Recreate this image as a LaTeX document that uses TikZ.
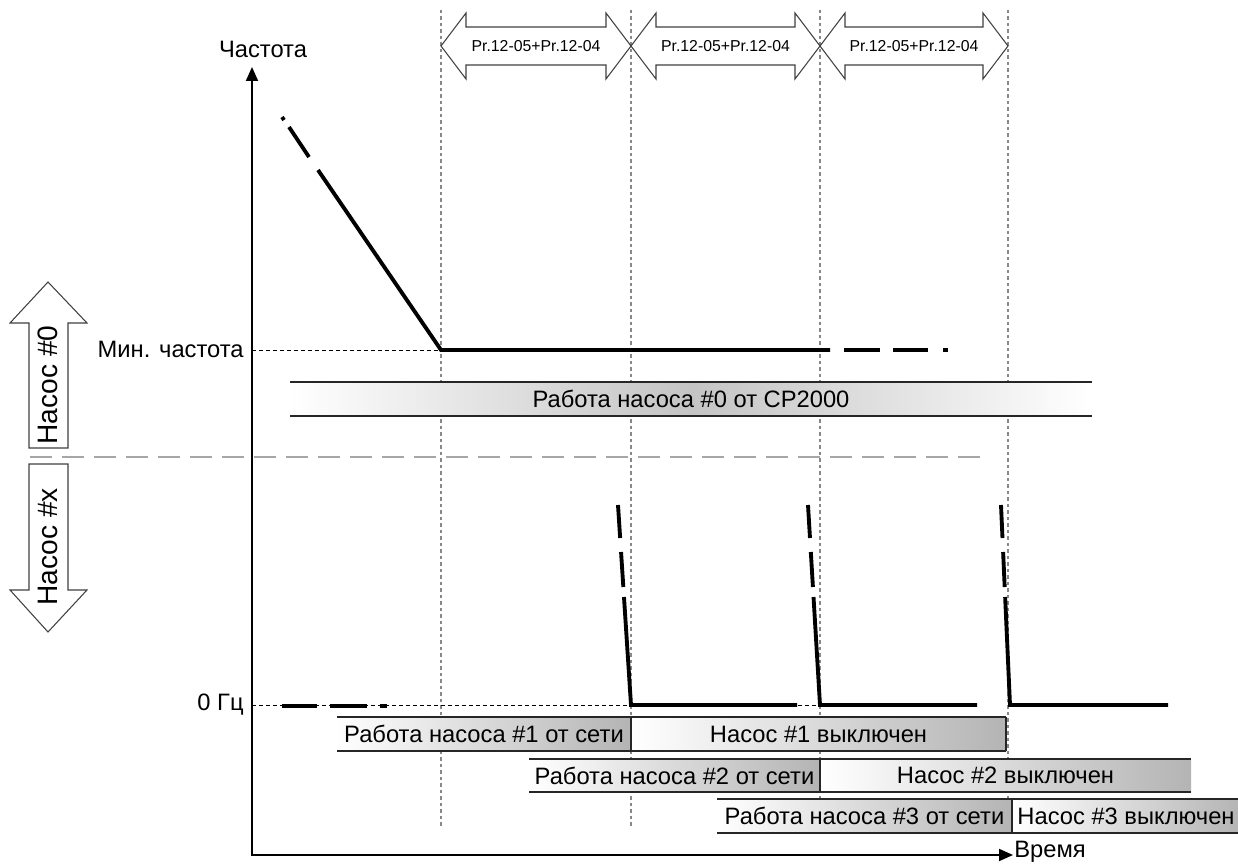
\documentclass[tikz,border=0pt]{standalone}
\usepackage{fontspec}
\setmainfont{Liberation Sans}
\usetikzlibrary{arrows.meta}

\definecolor{gridgray}{HTML}{888888}
\definecolor{sepgray}{HTML}{A6A6A6}
\definecolor{barshade}{HTML}{B4B4B4}
\definecolor{midshade}{HTML}{C4C4C4}

\begin{document}
\begin{tikzpicture}[
    x=0.02cm, y=-0.02cm,
    curve/.style={line width=2.2pt},
    guide/.style={gridgray, line width=0.9pt, dash pattern=on 0.07cm off 0.06cm},
    refline/.style={black, line width=0.5pt, dash pattern=on 0.08cm off 0.06cm},
    bigarrow/.style={draw=black!75, line width=0.6pt, fill=white},
    barline/.style={draw=black!85, line width=0.6pt},
    lbl/.style={font=\fontsize{13.5}{16}\selectfont, inner sep=0pt},
    parlabel/.style={font=\fontsize{9}{11}\selectfont, inner sep=0pt},
    pumplabel/.style={font=\fontsize{16}{19}\selectfont, inner sep=0pt, rotate=90},
]
\useasboundingbox (0,0) rectangle (1238,865);

% Time marks
\foreach \x in {441, 631, 820, 1008} {
    \draw[guide] (\x,10) -- (\x,828);
}

% Pr.12-05+Pr.12-04 intervals
\foreach \a/\b [count=\i] in {441/631, 631/820, 820/1008} {
    \draw[bigarrow] (\a,46) -- (\a+25,13) -- (\a+25,27) -- (\b-25,27)
        -- (\b-25,13) -- (\b,46) -- (\b-25,79) -- (\b-25,65)
        -- (\a+25,65) -- (\a+25,79) -- cycle;
    \node[parlabel] (par\i) at ({(\a+\b)/2},46) {Pr.12-05+Pr.12-04};
}

% Pump arrows on the left
\draw[bigarrow] (48,282) -- (87,323) -- (68,323) -- (68,448)
    -- (29,448) -- (29,323) -- (10,323) -- cycle;
\node[pumplabel] (pump0) at (48,385) {Насос \#0};
\draw[bigarrow] (48,632) -- (87,590) -- (68,590) -- (68,464)
    -- (29,464) -- (29,590) -- (10,590) -- cycle;
\node[pumplabel] (pumpx) at (48,547) {Насос \#x};

% Separator
\draw[sepgray, line width=1.4pt, dash pattern=on 0.44cm off 0.2cm] (30,457) -- (985,457);

% Reference levels
\draw[refline] (252,350) -- (441,350);
\draw[refline] (252,705) -- (820,705);
\node[lbl, anchor=east] (fmin) at (244,349) {Мин. частота};
\node[lbl, anchor=east] (fzero) at (244,705) {0 Гц};

% Pump #0 bar
\shade[left color=white, right color=white, middle color=midshade] (290,382) rectangle (1092,416);
\draw[barline] (290,382) -- (1092,382) (290,416) -- (1092,416);
\node[lbl] (run0) at (691,399) {Работа насоса \#0 от CP2000};

% Pump #1..#3 bars
\foreach \i/\a/\b/\c/\ya/\yb in {1/337/631/1006/717/751, 2/529/820/1191/759/792, 3/717/1012/1240/799/833} {
    \shade[left color=white, right color=barshade] (\a,\ya) rectangle (\b,\yb);
    \shade[left color=white, right color=barshade] (\b,\ya) rectangle (\c,\yb);
    \draw[barline] (\a,\ya) -- (\c,\ya) (\a,\yb) -- (\c,\yb);
    \draw[black!85, line width=1pt] (\b,\ya) -- (\b,\yb);
    \node[lbl] (run\i) at ({(\a+\b)/2},{(\ya+\yb)/2}) {Работа насоса \#\i{} от сети};
    \node[lbl] (off\i) at ({(\b+\c)/2},{(\ya+\yb)/2}) {Насос \#\i{} выключен};
}
\draw[barline] (1006,717) -- (1006,751);

% Frequency of pump #0
\draw[curve] (282,117) -- (284,120);
\draw[curve] (289,127) -- (309,157);
\draw[curve] (318,170) -- (441,350) -- (830,350);
\foreach \a/\b in {844/880, 893/928, 943/948} {
    \draw[curve] (\a,350) -- (\b,350);
}

% Frequency of pump #x
\foreach \a/\b in {282/317, 330/367, 380/387} {
    \draw[curve] (\a,706) -- (\b,706);
}
\foreach \t/\b/\e in {618/631/797, 808/820/977, 1001/1010/1168} {
    \draw[curve] (\t,505) -- ({\t+(\b-\t)*0.165},538);
    \draw[curve] ({\t+(\b-\t)*0.235},552) -- ({\t+(\b-\t)*0.41},587);
    \draw[curve] ({\t+(\b-\t)*0.46},597) -- (\b,705) -- (\e,705);
}

% Axes
\coordinate (ytop) at (252,67);
\coordinate (origin) at (252,855);
\coordinate (xend) at (1013,855);
\draw[line width=1.1pt, {Triangle[length=0.28cm, width=0.24cm]}-{Triangle[length=0.28cm, width=0.24cm]}]
    (ytop) -- (origin) -- (xend);
\node[lbl] (freq) at (263,49) {Частота};
\node[lbl, anchor=west] (time) at (1014,852) {Время};

\end{tikzpicture}
\end{document}
